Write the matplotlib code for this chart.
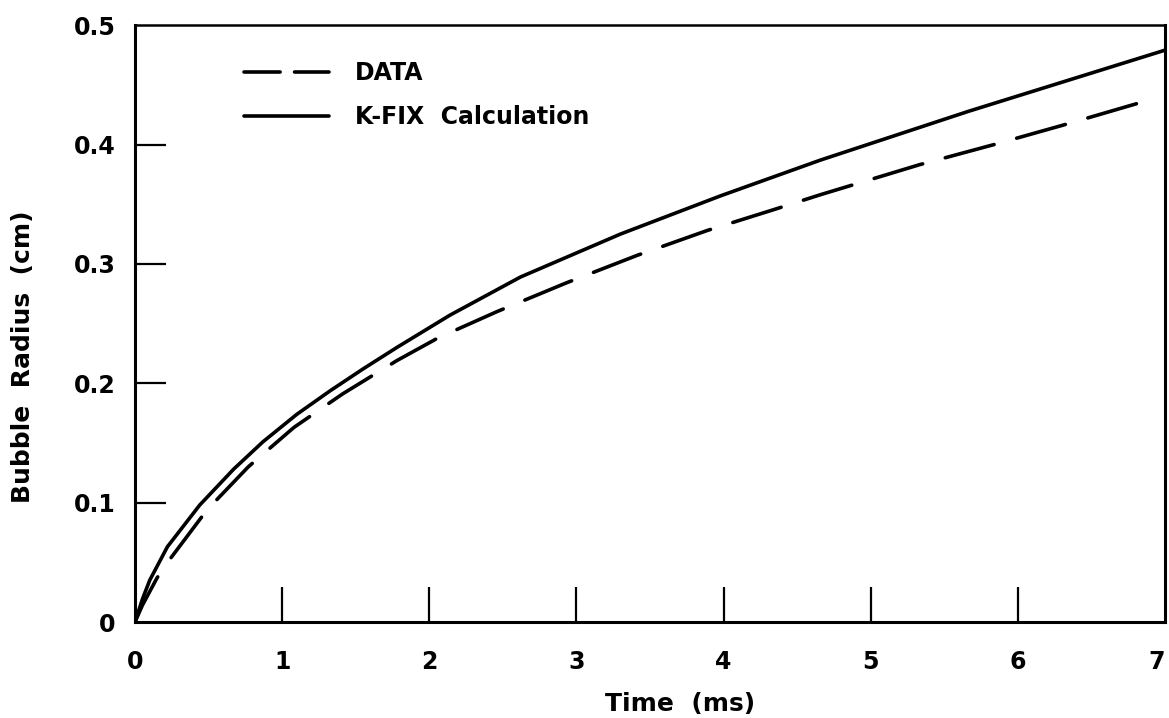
import matplotlib
matplotlib.use("Agg")
import matplotlib.pyplot as plt
from matplotlib.lines import Line2D

# values
t_calc = [0, 0.05, 0.10, 0.22, 0.44, 0.67, 0.87, 1.10, 1.33, 1.55, 1.78, 2.14,
          2.62, 3.30, 3.98, 4.66, 5.67, 7.0]
r_calc = [0, 0.019, 0.035, 0.063, 0.098, 0.128, 0.151, 0.174, 0.194, 0.212,
          0.230, 0.257, 0.289, 0.325, 0.357, 0.387, 0.428, 0.479]

t_data = [0, 0.05, 0.15, 0.215, 0.49, 0.77, 1.08, 1.41, 1.78, 2.06, 2.46, 2.93,
          3.41, 3.89, 4.33, 4.66, 5.33, 5.84, 6.33, 6.83]
r_data = [0, 0.014, 0.037, 0.049, 0.094, 0.130, 0.163, 0.191, 0.219, 0.238,
          0.260, 0.284, 0.307, 0.328, 0.345, 0.358, 0.383, 0.400, 0.417, 0.435]

x_ticks = [0, 1, 2, 3, 4, 5, 6, 7]
x_labels = ["0", "1", "2", "3", "4", "5", "6", "7"]
y_ticks = [0, 0.1, 0.2, 0.3, 0.4, 0.5]
y_labels = ["0", "0.1", "0.2", "0.3", "0.4", "0.5"]

plt.rcParams['font.family'] = ['DejaVu Sans']
plt.rcParams['font.weight'] = 'bold'

fig = plt.figure(figsize=(11.69, 7.18), dpi=100)
ax = fig.add_axes([0.1155, 0.1337, 0.881, 0.8313])

ax.plot(t_calc, r_calc, color='black', lw=2.6, solid_capstyle='round',
        solid_joinstyle='round')
ax.plot(t_data, r_data, color='black', lw=2.6, dashes=(14, 6.5),
        dash_capstyle='round', dash_joinstyle='round')

ax.set_xlim(0, 7)
ax.set_ylim(0, 0.5)

ax.set_xticks(x_ticks)
ax.set_xticklabels(x_labels)
ax.set_yticks(y_ticks)
ax.set_yticklabels(y_labels)
ax.tick_params(axis='x', direction='in', length=25, width=1.6, pad=20,
               labelsize=17)
ax.tick_params(axis='y', direction='in', length=22, width=1.6, pad=14,
               labelsize=17)
# end ticks would just sit on the spines
for tk in (ax.xaxis.get_major_ticks()[0], ax.xaxis.get_major_ticks()[-1],
           ax.yaxis.get_major_ticks()[0], ax.yaxis.get_major_ticks()[-1]):
    tk.tick1line.set_visible(False)
# last x label sits on the edge of the page, pull it inside
ax.get_xticklabels()[-1].set_horizontalalignment('right')

for s in ax.spines.values():
    s.set_linewidth(2.2)
ax.spines['top'].set_linewidth(1.8)

ax.set_xlabel("Time  (ms)", fontsize=18, fontweight='bold')
ax.set_ylabel("Bubble  Radius  (cm)", fontsize=18, fontweight='bold')
ax.xaxis.set_label_coords(0.529, -0.118)
ax.yaxis.set_label_coords(-0.097, 0.444)

h_data = Line2D([], [], color='black', lw=2.6, dashes=(10, 4),
                dash_capstyle='round')
h_calc = Line2D([], [], color='black', lw=2.6, solid_capstyle='round')
ax.legend([h_data, h_calc], ["DATA", "K-FIX  Calculation"], loc='upper left',
          bbox_to_anchor=(0.085, 0.975), frameon=False, fontsize=17,
          handlelength=3.6, handletextpad=1.1, labelspacing=0.85)

fig.savefig("out.png", dpi=100)
